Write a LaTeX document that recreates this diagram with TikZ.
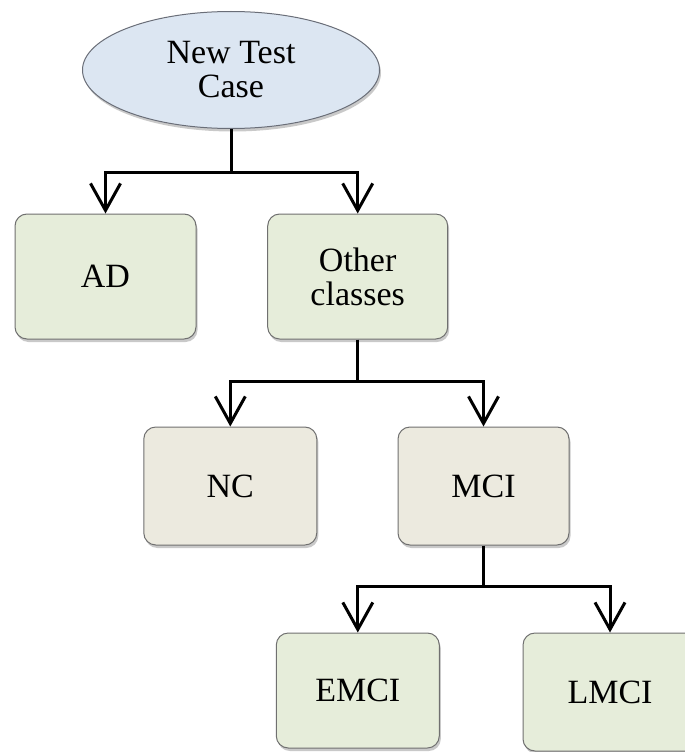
\documentclass[tikz,border=0pt]{standalone}
\usepackage{fontspec}
\setmainfont{Liberation Serif}
\usetikzlibrary{shapes.geometric,arrows.meta,shadows}
\definecolor{ellfill}{HTML}{DCE6F2}
\definecolor{ellborder}{HTML}{6A6E78}
\definecolor{greenfill}{HTML}{E6EDDA}
\definecolor{tanfill}{HTML}{ECEADF}
\definecolor{boxborder}{HTML}{707070}
\begin{document}
\begin{tikzpicture}[x=1pt,y=-1pt,
  every node/.style={font=\fontsize{34}{34}\selectfont, align=center, inner sep=0pt},
  myshadow/.style={drop shadow={shadow xshift=1.5pt, shadow yshift=-3pt, opacity=0.35, fill=black!60}},
  startnode/.style={ellipse, draw=ellborder, line width=1pt, fill=ellfill, minimum width=297pt, minimum height=117pt, myshadow},
  greenbox/.style={rectangle, rounded corners=12pt, draw=boxborder, line width=1pt, fill=greenfill, myshadow},
  tanbox/.style={rectangle, rounded corners=12pt, draw=boxborder, line width=1pt, fill=tanfill, myshadow},
  conn/.style={line width=3pt, draw=black},
  arr/.style={conn, -{Straight Barb[length=27pt, width=30pt, line width=3pt]}}
]
\clip (0,0) rectangle (685,752);
\fill[white] (0,0) rectangle (685,752);

\node[startnode] (start) at (231,70) {New Test\\Case};
\node[greenbox, minimum width=181pt, minimum height=125pt] (ad) at (105.5,276.5) {AD};
\node[greenbox, minimum width=180pt, minimum height=125pt] (other) at (357.7,276.5) {Other\\classes};
\node[tanbox, minimum width=173pt, minimum height=118pt] (nc) at (230.3,486) {NC};
\node[tanbox, minimum width=171pt, minimum height=118pt] (mci) at (483.5,486) {MCI};
\node[greenbox, minimum width=163pt, minimum height=115pt] (emci) at (357.8,690.5) {EMCI};
\node[greenbox, minimum width=174pt, minimum height=118pt] (lmci) at (610,692) {LMCI};

\coordinate (j1) at (231,172.7);
\coordinate (j2) at (357.7,381.7);
\coordinate (j3) at (483.5,586.7);

\draw[conn] (start.south) -- (j1);
\draw[arr] (j1) -| (ad.north);
\draw[arr] (j1) -| (other.north);

\draw[conn] (other.south) -- (j2);
\draw[arr] (j2) -| (nc.north);
\draw[arr] (j2) -| (mci.north);

\draw[conn] (mci.south) -- (j3);
\draw[arr] (j3) -| (emci.north);
\draw[arr] (j3) -| (lmci.north);
\end{tikzpicture}
\end{document}
